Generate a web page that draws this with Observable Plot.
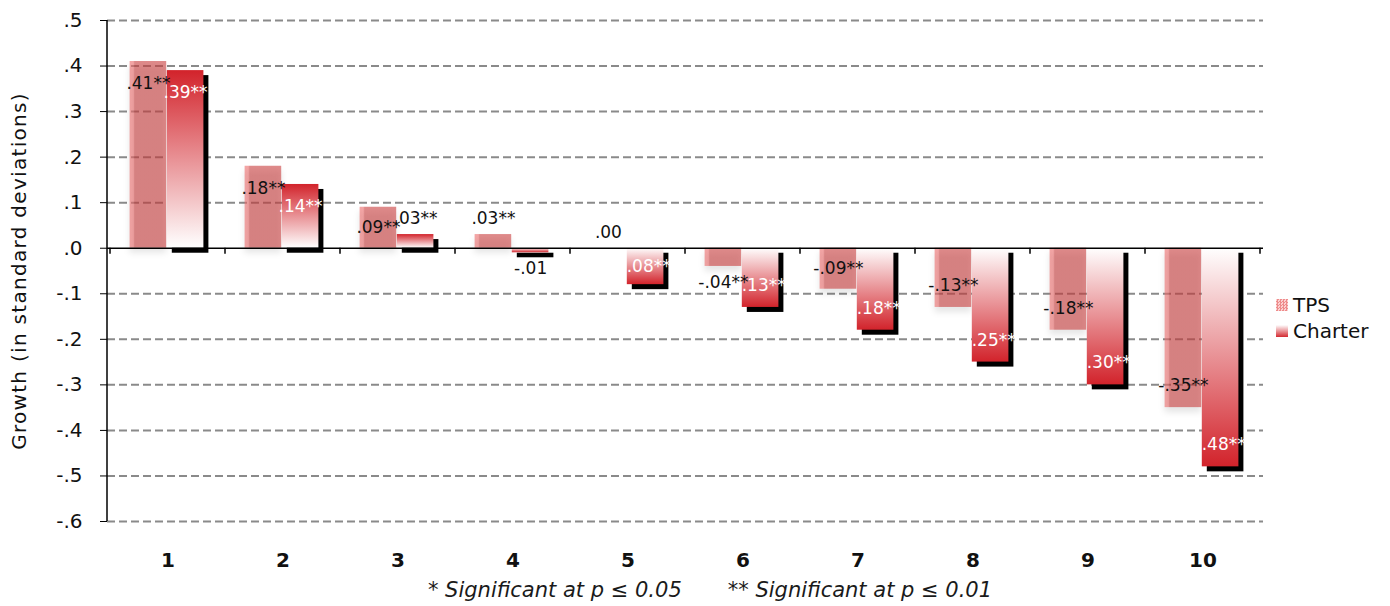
<!DOCTYPE html>
<html><head><meta charset="utf-8">
<script src="https://cdn.jsdelivr.net/npm/d3@7"></script>
<script src="https://cdn.jsdelivr.net/npm/@observablehq/plot@0.6"></script>
<style>
body{margin:0;background:#fff;font-family:"DejaVu Sans",Verdana,sans-serif;}
#wrap{position:relative;width:1390px;height:606px;overflow:hidden;}
#legend{position:absolute;left:1276px;top:292px;font-size:20px;color:#111;}
.li{display:flex;align-items:center;height:26px;}
.sw{width:12px;height:12px;margin-right:5px;}
.sw.tps{background:repeating-conic-gradient(#ee8c8c 0 25%, #fbd2d2 0 50%) 0 0/3px 3px;}
.sw.ch{background:linear-gradient(to bottom,#ffffff,#d42a31);}
#caption{position:absolute;left:0;top:578px;width:1420px;text-align:center;font-style:italic;font-size:21px;color:#1a1a1a;white-space:pre;}
#caption span + span{margin-left:46px;}
</style></head><body><div id="wrap"></div>
<script>
// ---- data ----
const categories = ["1","2","3","4","5","6","7","8","9","10"];
const tpsValues = [0.41, 0.18, 0.09, 0.03, 0.00, -0.04, -0.09, -0.13, -0.18, -0.35];
const tpsSig = ["**","**","**","**","","**","**","**","**","**"];
const charterValues = [0.39, 0.14, 0.03, -0.01, -0.08, -0.13, -0.18, -0.25, -0.30, -0.48];
const charterSig = ["**","**","**","","**","**","**","**","**","**"];
const yTicks = [0.5, 0.4, 0.3, 0.2, 0.1, 0.0, -0.1, -0.2, -0.3, -0.4, -0.5, -0.6];
const seriesNames = ["TPS", "Charter"];
const yLabel = "Growth (in standard deviations)";
const captionParts = ["* Significant at p \u2264 0.05", "** Significant at p \u2264 0.01"];

const rows = categories.map((c, i) => ({cat: c, tps: tpsValues[i], tpsSig: tpsSig[i], charter: charterValues[i], charterSig: charterSig[i]}));

// ---- layout ----
const W = 1390, H = 580, mL = 107, mR = 127, mT = 20, mB = 59;
const yDomain = [d3.min(yTicks), d3.max(yTicks)];
const step = (W - mL - mR) / categories.length;
const barW = 37.2;
const outer = (step - 2 * barW) / 2 - 1;
const ppu = (H - mT - mB) / (yDomain[1] - yDomain[0]);
const loc = d3.formatLocale({decimal: ".", thousands: ",", grouping: [3], currency: ["", ""], minus: "-"});
const strip = s => s.replace(/^(-?)0\./, "$1.");
const fmt2 = v => strip(loc.format(".2f")(v));
const fmt1 = v => strip(loc.format(".1f")(v));
const isInside = v => Math.abs(v) * ppu >= 30;
const labelY = v => {
  const px = Math.abs(v) * ppu;
  const s = v >= 0 ? 1 : -1;
  const off = px >= 30 ? -Math.min(22, px / 2) : 16;
  return v + s * off / ppu;
};
const tpsDx = -(step / 2 - outer - barW / 2);
const chDx = outer + barW * 1.5 - step / 2;

const chart = Plot.plot({
  width: W, height: H, marginLeft: mL, marginRight: mR, marginTop: mT, marginBottom: mB,
  style: {fontFamily: '"DejaVu Sans", Verdana, sans-serif', color: "#111", background: "#fff"},
  x: {domain: categories, padding: 0},
  y: {domain: yDomain},
  marks: [
    Plot.ruleY(yTicks.filter(t => t !== 0), {stroke: "#8a8a8a", strokeWidth: 2, strokeDasharray: "8,4"}),
    Plot.barY(rows, {x: "cat", y: "tps", fill: "url(#tpsGrad)", insetLeft: outer, insetRight: step - outer - barW}),
    Plot.barY(rows, {x: "cat", y: "charter", fill: "#000", insetLeft: outer + barW, insetRight: step - outer - 2 * barW, dx: 5, dy: 5}),
    Plot.barY(rows.filter(d => d.charter >= 0), {x: "cat", y: "charter", fill: "url(#chPos)", insetLeft: outer + barW, insetRight: step - outer - 2 * barW}),
    Plot.barY(rows.filter(d => d.charter < 0), {x: "cat", y: "charter", fill: "url(#chNeg)", insetLeft: outer + barW, insetRight: step - outer - 2 * barW}),
    Plot.ruleY([0], {stroke: "#000", strokeWidth: 1.5}),
    Plot.text(rows, {x: "cat", y: d => labelY(d.tps), text: d => fmt2(d.tps) + d.tpsSig, dx: tpsDx, fill: "#111", fontSize: 17}),
    Plot.text(rows.filter(d => isInside(d.charter)), {x: "cat", y: d => labelY(d.charter), text: d => fmt2(d.charter) + d.charterSig, dx: chDx, fill: "#fff", fontSize: 17}),
    Plot.text(rows.filter(d => !isInside(d.charter)), {x: "cat", y: d => labelY(d.charter), text: d => fmt2(d.charter) + d.charterSig, dx: chDx, fill: "#111", fontSize: 17}),
    Plot.axisY({ticks: yTicks, tickFormat: fmt1, tickSize: 7, tickPadding: 18, fontSize: 20, label: null, stroke: "#000"}),
    Plot.axisX({tickSize: 0, tickPadding: 31, fontSize: 20, fontWeight: "bold", label: null}),
    Plot.text([yLabel], {frameAnchor: "left", textAnchor: "middle", rotate: -90, dx: -88, fontSize: 20, fill: "#111"})
  ]
});

const svg = d3.select(chart);
// letter spacing on the rotated y label (last text mark)
svg.selectAll('g[aria-label="text"]').filter((d, i, n) => i === n.length - 1).selectAll("text").style("letter-spacing", "1.3px");
// soft shadow under the TPS bars (first bar mark)
svg.select('g[aria-label="bar"]').style("filter", "drop-shadow(0px 5px 3px rgba(0,0,0,0.16))");

// defs for gradients
const defs = svg.insert("defs", ":first-child");
const tg = defs.append("linearGradient").attr("id", "tpsGrad").attr("x1", 0).attr("y1", 0).attr("x2", 1).attr("y2", 0);
[[0, "#eb6e6e"], [0.1, "#eb6e6e"], [0.14, "#ca4242"], [1, "#ca4242"]].forEach(([o, c]) =>
  tg.append("stop").attr("offset", o).attr("stop-color", c).attr("stop-opacity", 0.62));
const gp = defs.append("linearGradient").attr("id", "chPos").attr("x1", 0).attr("y1", 0).attr("x2", 0).attr("y2", 1);
gp.append("stop").attr("offset", 0).attr("stop-color", "#d2232b");
gp.append("stop").attr("offset", 1).attr("stop-color", "#ffffff");
const gn = defs.append("linearGradient").attr("id", "chNeg").attr("x1", 0).attr("y1", 0).attr("x2", 0).attr("y2", 1);
gn.append("stop").attr("offset", 0).attr("stop-color", "#ffffff");
gn.append("stop").attr("offset", 1).attr("stop-color", "#d2232b");

// y axis line and zero-line ticks at category boundaries, via the plot's scales
const xs = chart.scale("x"), ys = chart.scale("y");
const y0 = ys.apply(0);
const g = svg.append("g").attr("stroke", "#000").attr("stroke-width", 1.5);
g.append("line").attr("x1", mL).attr("x2", mL).attr("y1", ys.apply(yDomain[1])).attr("y2", ys.apply(yDomain[0]));
const bounds = categories.map(c => xs.apply(c)).concat([xs.apply(categories[categories.length - 1]) + xs.bandwidth]);
bounds.forEach(bx => g.append("line").attr("x1", bx).attr("x2", bx).attr("y1", y0).attr("y2", y0 + 6));

const wrap = document.getElementById("wrap");
wrap.appendChild(chart);

const legend = document.createElement("div");
legend.id = "legend";
legend.innerHTML = seriesNames.map((n, i) => `<div class="li"><div class="sw ${i === 0 ? "tps" : "ch"}"></div><span>${n}</span></div>`).join("");
wrap.appendChild(legend);

const cap = document.createElement("div");
cap.id = "caption";
cap.innerHTML = captionParts.map(p => `<span>${p}</span>`).join("");
wrap.appendChild(cap);
</script>
</body></html>
